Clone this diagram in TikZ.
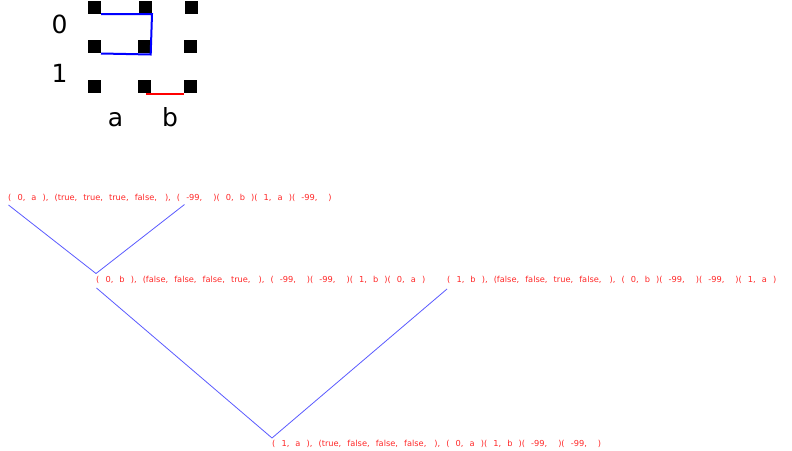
\documentclass[tikz,border=0pt]{standalone}
\usepackage{fontspec}
\setmainfont{DejaVu Sans}
\newfontfamily\treefont{DejaVu Sans}
\definecolor{treered}{RGB}{255,40,40}
\definecolor{treeblue}{RGB}{90,90,255}
\newcommand{\gp}[1]{\hspace{#1pt}}
\newcommand{\widespaces}{\spaceskip=6.1pt\relax}
\begin{document}
\begin{tikzpicture}[x=1pt,y=-1pt,
  sq/.style={fill=black,draw=none,minimum size=13pt,inner sep=0,outer sep=0},
  axislabel/.style={font=\fontsize{25}{28}\selectfont,inner sep=0,anchor=base},
  treelabel/.style={font=\treefont\fontsize{8.25}{10}\selectfont\widespaces,text=treered,inner sep=0,anchor=west},
  treeedge/.style={draw=treeblue,line width=0.8pt},
  gridpath/.style={draw=blue,line width=2pt}]
\useasboundingbox (0,0) rectangle (792,450);
% grid squares
\node[sq] (s11) at (94.5,7.5) {};
\node[sq] (s12) at (145.5,7.5) {};
\node[sq] (s13) at (191.5,7.5) {};
\node[sq] (s21) at (94.5,46) {};
\node[sq] (s22) at (144.2,46) {};
\node[sq] (s23) at (190.2,46) {};
\node[sq] (s31) at (94.5,86) {};
\node[sq] (s32) at (144.5,86) {};
\node[sq] (s33) at (190,86) {};
% labels
\node[axislabel] (l0) at (59.5,33) {0};
\node[axislabel] (l1) at (59.5,82) {1};
\node[axislabel] (la) at (115.5,126) {a};
\node[axislabel] (lb) at (170,126) {b};
% blue path
\draw[gridpath] (s11.south east) -- (s12.south east) -- ([yshift=-2pt]s22.south east) -- ([yshift=-1pt]s21.south east);
% red segment
\draw[draw=red,line width=2pt] ([xshift=1.5pt,yshift=-1.7pt]s32.south) -- ([yshift=-1.7pt]s33.south west);
% tree nodes
\node[treelabel] (t1) at (8,197.5) {( 0, a ), (true, true, true, false,\gp{8}), ( -99,\gp{11})( 0, b )( 1, a )( -99,\gp{11})};
\node[treelabel] (t2) at (96,280) {( 0, b ), (false, false, false, true,\gp{8}), ( -99,\gp{11})( -99,\gp{11})( 1, b )( 0, a )};
\node[treelabel] (t3) at (447,280) {( 1, b ), (false, false, true, false,\gp{8}), ( 0, b )( -99,\gp{11})( -99,\gp{11})( 1, a )};
\node[treelabel] (t4) at (272,444) {( 1, a ), (true, false, false, false,\gp{8}), ( 0, a )( 1, b )( -99,\gp{11})( -99,\gp{11})};
\coordinate (c1) at (184.5,204.5);
% tree edges
\draw[treeedge] ([yshift=-7.5pt,xshift=0.5pt]t1.west) -- ([yshift=6.5pt]t2.west);
\draw[treeedge] (c1) -- ([yshift=6.5pt]t2.west);
\draw[treeedge] ([yshift=-8pt,xshift=0.5pt]t2.west) -- ([yshift=6pt]t4.west);
\draw[treeedge] ([yshift=-9pt]t3.west) -- ([yshift=6pt]t4.west);
\end{tikzpicture}
\end{document}
